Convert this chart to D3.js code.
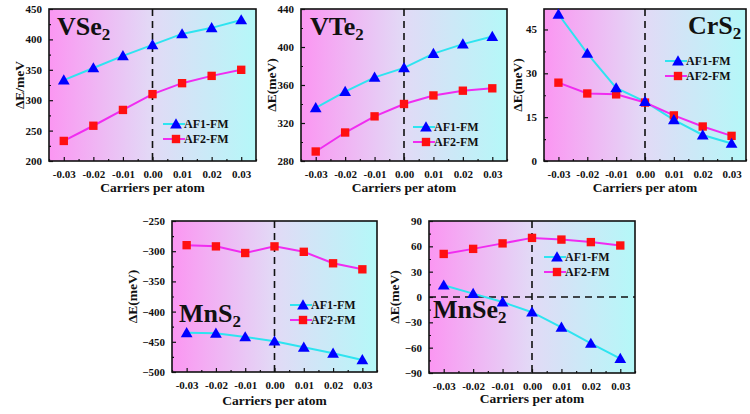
<!DOCTYPE html>
<html>
<head>
<meta charset="utf-8">
<script src="https://cdn.jsdelivr.net/npm/d3@7"></script>
<style>
  body { margin: 0; background: #fff; }
</style>
</head>
<body>
<div id="chart"></div>
<script>
var w = 750, h = 414;
var serif = "'Liberation Serif', 'Times New Roman', Times, serif";

// data
var carriers = [-0.03, -0.02, -0.01, 0.00, 0.01, 0.02, 0.03];
var xTickLabels = ["-0.03", "-0.02", "-0.01", "0.00", "0.01", "0.02", "0.03"];
var seriesNames = ["AF1-FM", "AF2-FM"];

var vse2AF1 = [333, 353, 373, 391, 409, 419, 432];
var vse2AF2 = [233, 258, 284, 310, 328, 340, 350];
var vte2AF1 = [336, 353, 368, 378, 393, 403, 411];
var vte2AF2 = [290, 310, 327, 340, 349, 354, 356.5];
var crs2AF1 = [50.2, 36.8, 25, 20.3, 14.1, 8.9, 6];
var crs2AF2 = [26.8, 23.1, 22.8, 20, 15.6, 11.8, 8.6];
var mns2AF1 = [-435, -436, -442, -449, -459, -469, -480];
var mns2AF2 = [-290, -292, -303, -292, -301, -320, -330];
var mnse2AF1 = [14, 4, -6, -18, -36, -55, -73];
var mnse2AF2 = [51, 57, 63.5, 70, 68, 65, 61];

var vse2Ticks = [200, 250, 300, 350, 400, 450];
var vte2Ticks = [280, 320, 360, 400, 440];
var crs2Ticks = [0, 15, 30, 45];
var mns2Ticks = [-500, -450, -400, -350, -300, -250];
var mnse2Ticks = [-90, -60, -30, 0, 30, 60, 90];

// layout of each panel
var panels = [
  {name: "VSe", sub: "2", af1: vse2AF1, af2: vse2AF2, ticks: vse2Ticks, ydom: [200, 450],
   l: 49, r: 256, t: 9, b: 161, ytitle: "\u0394E/meV", ytx: 20, xty: 192,
   nameX: 57, nameY: 35, legX: 165, legY: 124},
  {name: "VTe", sub: "2", af1: vte2AF1, af2: vte2AF2, ticks: vte2Ticks, ydom: [280, 440],
   l: 301, r: 507, t: 9, b: 161, ytitle: "\u0394E(meV)", ytx: 272, xty: 192,
   nameX: 310, nameY: 35, legX: 415, legY: 127},
  {name: "CrS", sub: "2", af1: crs2AF1, af2: crs2AF2, ticks: crs2Ticks, ydom: [0, 52],
   l: 544, r: 746, t: 9, b: 161, ytitle: "\u0394E(meV)", ytx: 518, xty: 192,
   nameX: 688, nameY: 34, legX: 667, legY: 61},
  {name: "MnS", sub: "2", af1: mns2AF1, af2: mns2AF2, ticks: mns2Ticks, ydom: [-500, -250],
   l: 172, r: 377, t: 221, b: 372, ytitle: "\u0394E(meV)", ytx: 133, xty: 405,
   nameX: 179, nameY: 322, legX: 292, legY: 305},
  {name: "MnSe", sub: "2", af1: mnse2AF1, af2: mnse2AF2, ticks: mnse2Ticks, ydom: [-90, 90],
   l: 429, r: 635, t: 221, b: 373, ytitle: "\u0394E(meV)", ytx: 395, xty: 403,
   nameX: 433, nameY: 318, legX: 546, legY: 257, zeroLine: true}
];

var af1Line = "#2ee4f0", af2Line = "#f02cf0";
var af1Mark = "#0000ff", af2Mark = "#ff1010";

var vis = d3.select("#chart").append("svg").attr("width", w).attr("height", h)
  .attr("font-family", serif).attr("font-weight", "bold");

var defs = vis.append("defs");
var grad = defs.append("linearGradient").attr("id", "bg").attr("x1", "0%").attr("x2", "100%").attr("y1", "0%").attr("y2", "0%");
grad.append("stop").attr("offset", "0%").attr("stop-color", "#fb96f2");
grad.append("stop").attr("offset", "50%").attr("stop-color", "#e2daf6");
grad.append("stop").attr("offset", "100%").attr("stop-color", "#b4f8f8");

var triangle = d3.symbol().type(d3.symbolTriangle).size(60);
var square = d3.symbol().type(d3.symbolSquare).size(70);

function txt(sel) {
  return sel.attr("font-family", serif).attr("font-weight", "bold").attr("fill", "#111");
}

panels.forEach(function(p) {
  var g = vis.append("g");
  var x = d3.scaleLinear().domain([-0.035, 0.035]).range([p.l, p.r]);
  var y = d3.scaleLinear().domain(p.ydom).range([p.b, p.t]);

  g.append("rect").attr("x", p.l).attr("y", p.t).attr("width", p.r - p.l).attr("height", p.b - p.t)
    .attr("fill", "url(#bg)");

  // dashed zero lines
  g.append("line").attr("x1", x(0)).attr("x2", x(0)).attr("y1", p.t).attr("y2", p.b)
    .attr("stroke", "#111").attr("stroke-width", 1.6).attr("stroke-dasharray", "7,5");
  if (p.zeroLine) {
    g.append("line").attr("x1", p.l).attr("x2", p.r).attr("y1", y(0)).attr("y2", y(0))
      .attr("stroke", "#111").attr("stroke-width", 1.6).attr("stroke-dasharray", "7,5");
  }

  // axes with inward ticks
  var xMinor = d3.range(-0.035, 0.0351, 0.005).filter(function(v) {
    return Math.abs(Math.round(v * 1000) % 10) == 5;
  });
  g.append("g").attr("transform", "translate(0," + p.b + ")")
    .call(d3.axisBottom(x).tickValues(xMinor).tickSize(-2).tickFormat(""))
    .call(function(a) { a.select(".domain").remove(); });
  var xa = g.append("g").attr("transform", "translate(0," + p.b + ")")
    .call(d3.axisBottom(x).tickValues(carriers).tickSize(-4).tickPadding(9)
      .tickFormat(function(d, i) { return xTickLabels[i]; }));
  xa.select(".domain").remove();
  xa.attr("font-family", serif).attr("font-size", 11);
  txt(xa.selectAll("text"));

  var step = p.ticks[1] - p.ticks[0];
  var yMinor = p.ticks.slice(0, -1).map(function(v) { return v + step / 2; });
  g.append("g").attr("transform", "translate(" + p.l + ",0)")
    .call(d3.axisLeft(y).tickValues(yMinor).tickSize(-2).tickFormat(""))
    .call(function(a) { a.select(".domain").remove(); });
  var ya = g.append("g").attr("transform", "translate(" + p.l + ",0)")
    .call(d3.axisLeft(y).tickValues(p.ticks).tickSize(-4).tickPadding(7));
  ya.select(".domain").remove();
  ya.attr("font-family", serif).attr("font-size", 11);
  txt(ya.selectAll("text"));
  g.selectAll(".tick line").attr("stroke", "#111").attr("stroke-width", 1.2);

  g.append("rect").attr("x", p.l).attr("y", p.t).attr("width", p.r - p.l).attr("height", p.b - p.t)
    .attr("fill", "none").attr("stroke", "#111").attr("stroke-width", 1.6);

  // series
  var line = d3.line().x(function(d, i) { return x(carriers[i]); }).y(function(d) { return y(d); });
  g.append("path").datum(p.af1).attr("d", line).attr("fill", "none").attr("stroke", af1Line).attr("stroke-width", 2);
  g.append("path").datum(p.af2).attr("d", line).attr("fill", "none").attr("stroke", af2Line).attr("stroke-width", 2);
  g.selectAll(".sq").data(p.af2).enter().append("path").attr("class", "sq")
    .attr("d", square).attr("fill", af2Mark)
    .attr("transform", function(d, i) { return "translate(" + x(carriers[i]) + "," + y(d) + ")"; });
  g.selectAll(".tri").data(p.af1).enter().append("path").attr("class", "tri")
    .attr("d", triangle).attr("fill", af1Mark)
    .attr("transform", function(d, i) { return "translate(" + x(carriers[i]) + "," + (y(d) + 1) + ")"; });

  // legend
  [[af1Line, af1Mark, triangle], [af2Line, af2Mark, square]].forEach(function(s, k) {
    var ly = p.legY + k * 15;
    g.append("line").attr("x1", p.legX - 2).attr("x2", p.legX + 20).attr("y1", ly).attr("y2", ly)
      .attr("stroke", s[0]).attr("stroke-width", 2);
    g.append("path").attr("d", s[2]).attr("fill", s[1])
      .attr("transform", "translate(" + (p.legX + 11) + "," + (ly + (k == 0 ? 1 : 0)) + ")");
    txt(g.append("text")).attr("x", p.legX + 19).attr("y", ly + 4).attr("font-size", 12).text(seriesNames[k]);
  });

  // titles
  var nm = txt(g.append("text")).attr("x", p.nameX).attr("y", p.nameY).attr("font-size", 26);
  nm.append("tspan").text(p.name);
  nm.append("tspan").attr("font-size", 17).attr("dy", 5).text(p.sub);

  txt(g.append("text")).attr("x", (p.l + p.r) / 2).attr("y", p.xty).attr("text-anchor", "middle")
    .attr("font-size", 13.5).text("Carriers per atom");
  txt(g.append("text")).attr("transform", "translate(" + (p.ytx + 4) + "," + ((p.t + p.b) / 2) + ") rotate(-90)")
    .attr("text-anchor", "middle").attr("font-size", 13.5).text(p.ytitle);
});
</script>
</body>
</html>
